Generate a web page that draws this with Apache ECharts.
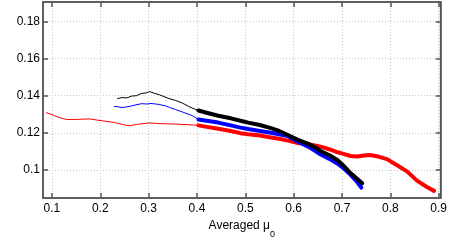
<!DOCTYPE html>
<html><head><meta charset="utf-8">
<script src="https://cdn.jsdelivr.net/npm/echarts@6/dist/echarts.min.js"></script>
<style>html,body{margin:0;padding:0;background:#fff}#c{width:450px;height:244px}</style>
</head><body><div id="c"></div>
<script>
const xTicks = [0.1,0.2,0.3,0.4,0.5,0.6,0.7,0.8,0.9];
const yTicks = [0.1,0.12,0.14,0.16,0.18];

const blackThinX = [0.236,0.245,0.255,0.265,0.275,0.285,0.295,0.302,0.312,0.322,0.332,0.342,0.355,0.37,0.383,0.395,0.403];
const blackThinY = [0.1385,0.1390,0.1388,0.1398,0.1400,0.1412,0.1415,0.1422,0.1413,0.1405,0.1395,0.1385,0.1375,0.1360,0.1342,0.1328,0.1320];
const blackThickX = [0.403,0.42,0.444,0.47,0.49,0.506,0.53,0.553,0.57,0.588,0.609,0.629,0.645,0.656,0.675,0.691,0.705,0.7175,0.73,0.742];
const blackThickY = [0.1320,0.1308,0.1292,0.1278,0.1265,0.1255,0.1242,0.1225,0.1210,0.1188,0.1162,0.1142,0.1120,0.1102,0.1078,0.1052,0.1018,0.0983,0.0955,0.0928];

const blueThinX = [0.229,0.237,0.245,0.255,0.265,0.276,0.286,0.296,0.305,0.321,0.335,0.345,0.356,0.37,0.383,0.392,0.403];
const blueThinY = [0.1342,0.1340,0.1336,0.1340,0.1345,0.1352,0.1357,0.1355,0.1358,0.1353,0.1345,0.1335,0.1325,0.1312,0.1300,0.1290,0.1272];
const blueThickX = [0.403,0.42,0.444,0.47,0.49,0.506,0.53,0.553,0.57,0.588,0.609,0.629,0.645,0.656,0.675,0.691,0.705,0.7175,0.73,0.74];
const blueThickY = [0.1272,0.1265,0.1255,0.1240,0.1228,0.1220,0.1210,0.1200,0.1192,0.1183,0.1152,0.1127,0.1102,0.1083,0.1058,0.1033,0.1005,0.0975,0.0940,0.0905];

const redThinX = [0.0885,0.092,0.096,0.1055,0.118,0.1296,0.15,0.1774,0.195,0.2117,0.23,0.2455,0.2596,0.275,0.3006,0.321,0.34,0.356,0.38,0.403];
const redThinY = [0.1308,0.1298,0.1302,0.1292,0.1280,0.1272,0.1272,0.1275,0.1268,0.1262,0.1255,0.1245,0.1238,0.1245,0.1253,0.1250,0.1248,0.1247,0.1244,0.1240];
const redThickX = [0.403,0.42,0.444,0.47,0.49,0.506,0.53,0.553,0.57,0.588,0.609,0.629,0.656,0.675,0.691,0.705,0.7175,0.732,0.745,0.758,0.775,0.793,0.814,0.8345,0.8551,0.8756,0.8906];
const redThickY = [0.1240,0.1232,0.1222,0.1210,0.1198,0.1192,0.1185,0.1175,0.1168,0.1158,0.1145,0.1140,0.1125,0.1110,0.1095,0.1085,0.1075,0.1072,0.1078,0.1080,0.1072,0.1058,0.1025,0.0992,0.0942,0.0908,0.0887];

function pairs(xs, ys){ return xs.map((x,i)=>[x, ys[i]]); }
function line(xs, ys, color, w){
  return {type:'line', xAxisIndex:0, yAxisIndex:0, data:pairs(xs,ys), showSymbol:false, symbol:'none',
    lineStyle:{color:color, width:w, join:'round', cap:'round'}, itemStyle:{color:color}, animation:false, z: w>2?3:2};
}
const FONT = 'Liberation Sans';
const AX = '#555555';
function axLine(){ return {show:true, onZero:false, lineStyle:{color:AX, width:1.5, type:'solid'}}; }
function axTick(vals){ return {show:true, inside:true, length:5, customValues:vals, lineStyle:{color:AX, width:1.5}}; }
const xmin = 0.0815, xmax = 0.904, ymin = 0.0848, ymax = 0.1905;

const chart = echarts.init(document.getElementById('c'), null, {renderer:'canvas'});
chart.setOption({
  animation:false,
  grid:{left:43, right:6, top:2, bottom:30, containLabel:false, show:true, borderColor:AX, borderWidth:1.5, backgroundColor:'transparent'},
  xAxis:[
    {type:'value', position:'bottom', min:xmin, max:xmax,
     axisLine:axLine(), axisTick:axTick(xTicks),
     axisLabel:{customValues:xTicks, color:'#000', fontFamily:FONT, fontSize:12, margin:5},
     splitLine:{show:true, lineStyle:{type:[1,2], color:'#c8c8c8', width:1}},
     name:'Averaged μ{s|0}', nameLocation:'middle', nameGap:14,
     nameTextStyle:{color:'#000', fontFamily:FONT, fontSize:12, rich:{s:{fontFamily:FONT, fontSize:9, verticalAlign:'bottom', padding:[0,0,-7,0], color:'#000'}}}},
    {type:'value', position:'top', min:xmin, max:xmax,
     axisLine:axLine(), axisTick:axTick(xTicks),
     axisLabel:{show:false}, splitLine:{show:false}}
  ],
  yAxis:[
    {type:'value', position:'left', min:ymin, max:ymax,
     axisLine:axLine(), axisTick:axTick(yTicks),
     axisLabel:{customValues:yTicks, color:'#000', fontFamily:FONT, fontSize:12, margin:3},
     splitLine:{show:true, lineStyle:{type:[1,2], color:'#c8c8c8', width:1}}},
    {type:'value', position:'right', min:ymin, max:ymax,
     axisLine:axLine(), axisTick:axTick(yTicks),
     axisLabel:{show:false}, splitLine:{show:false}}
  ],
  series:[
    line(redThinX, redThinY, '#ff0000', 1),
    line(blueThinX, blueThinY, '#0000ff', 1),
    line(blackThinX, blackThinY, '#000000', 1),
    line(redThickX, redThickY, '#ff0000', 4),
    line(blueThickX, blueThickY, '#0000ff', 4),
    line(blackThickX, blackThickY, '#000000', 4)
  ]
});
</script></body></html>
